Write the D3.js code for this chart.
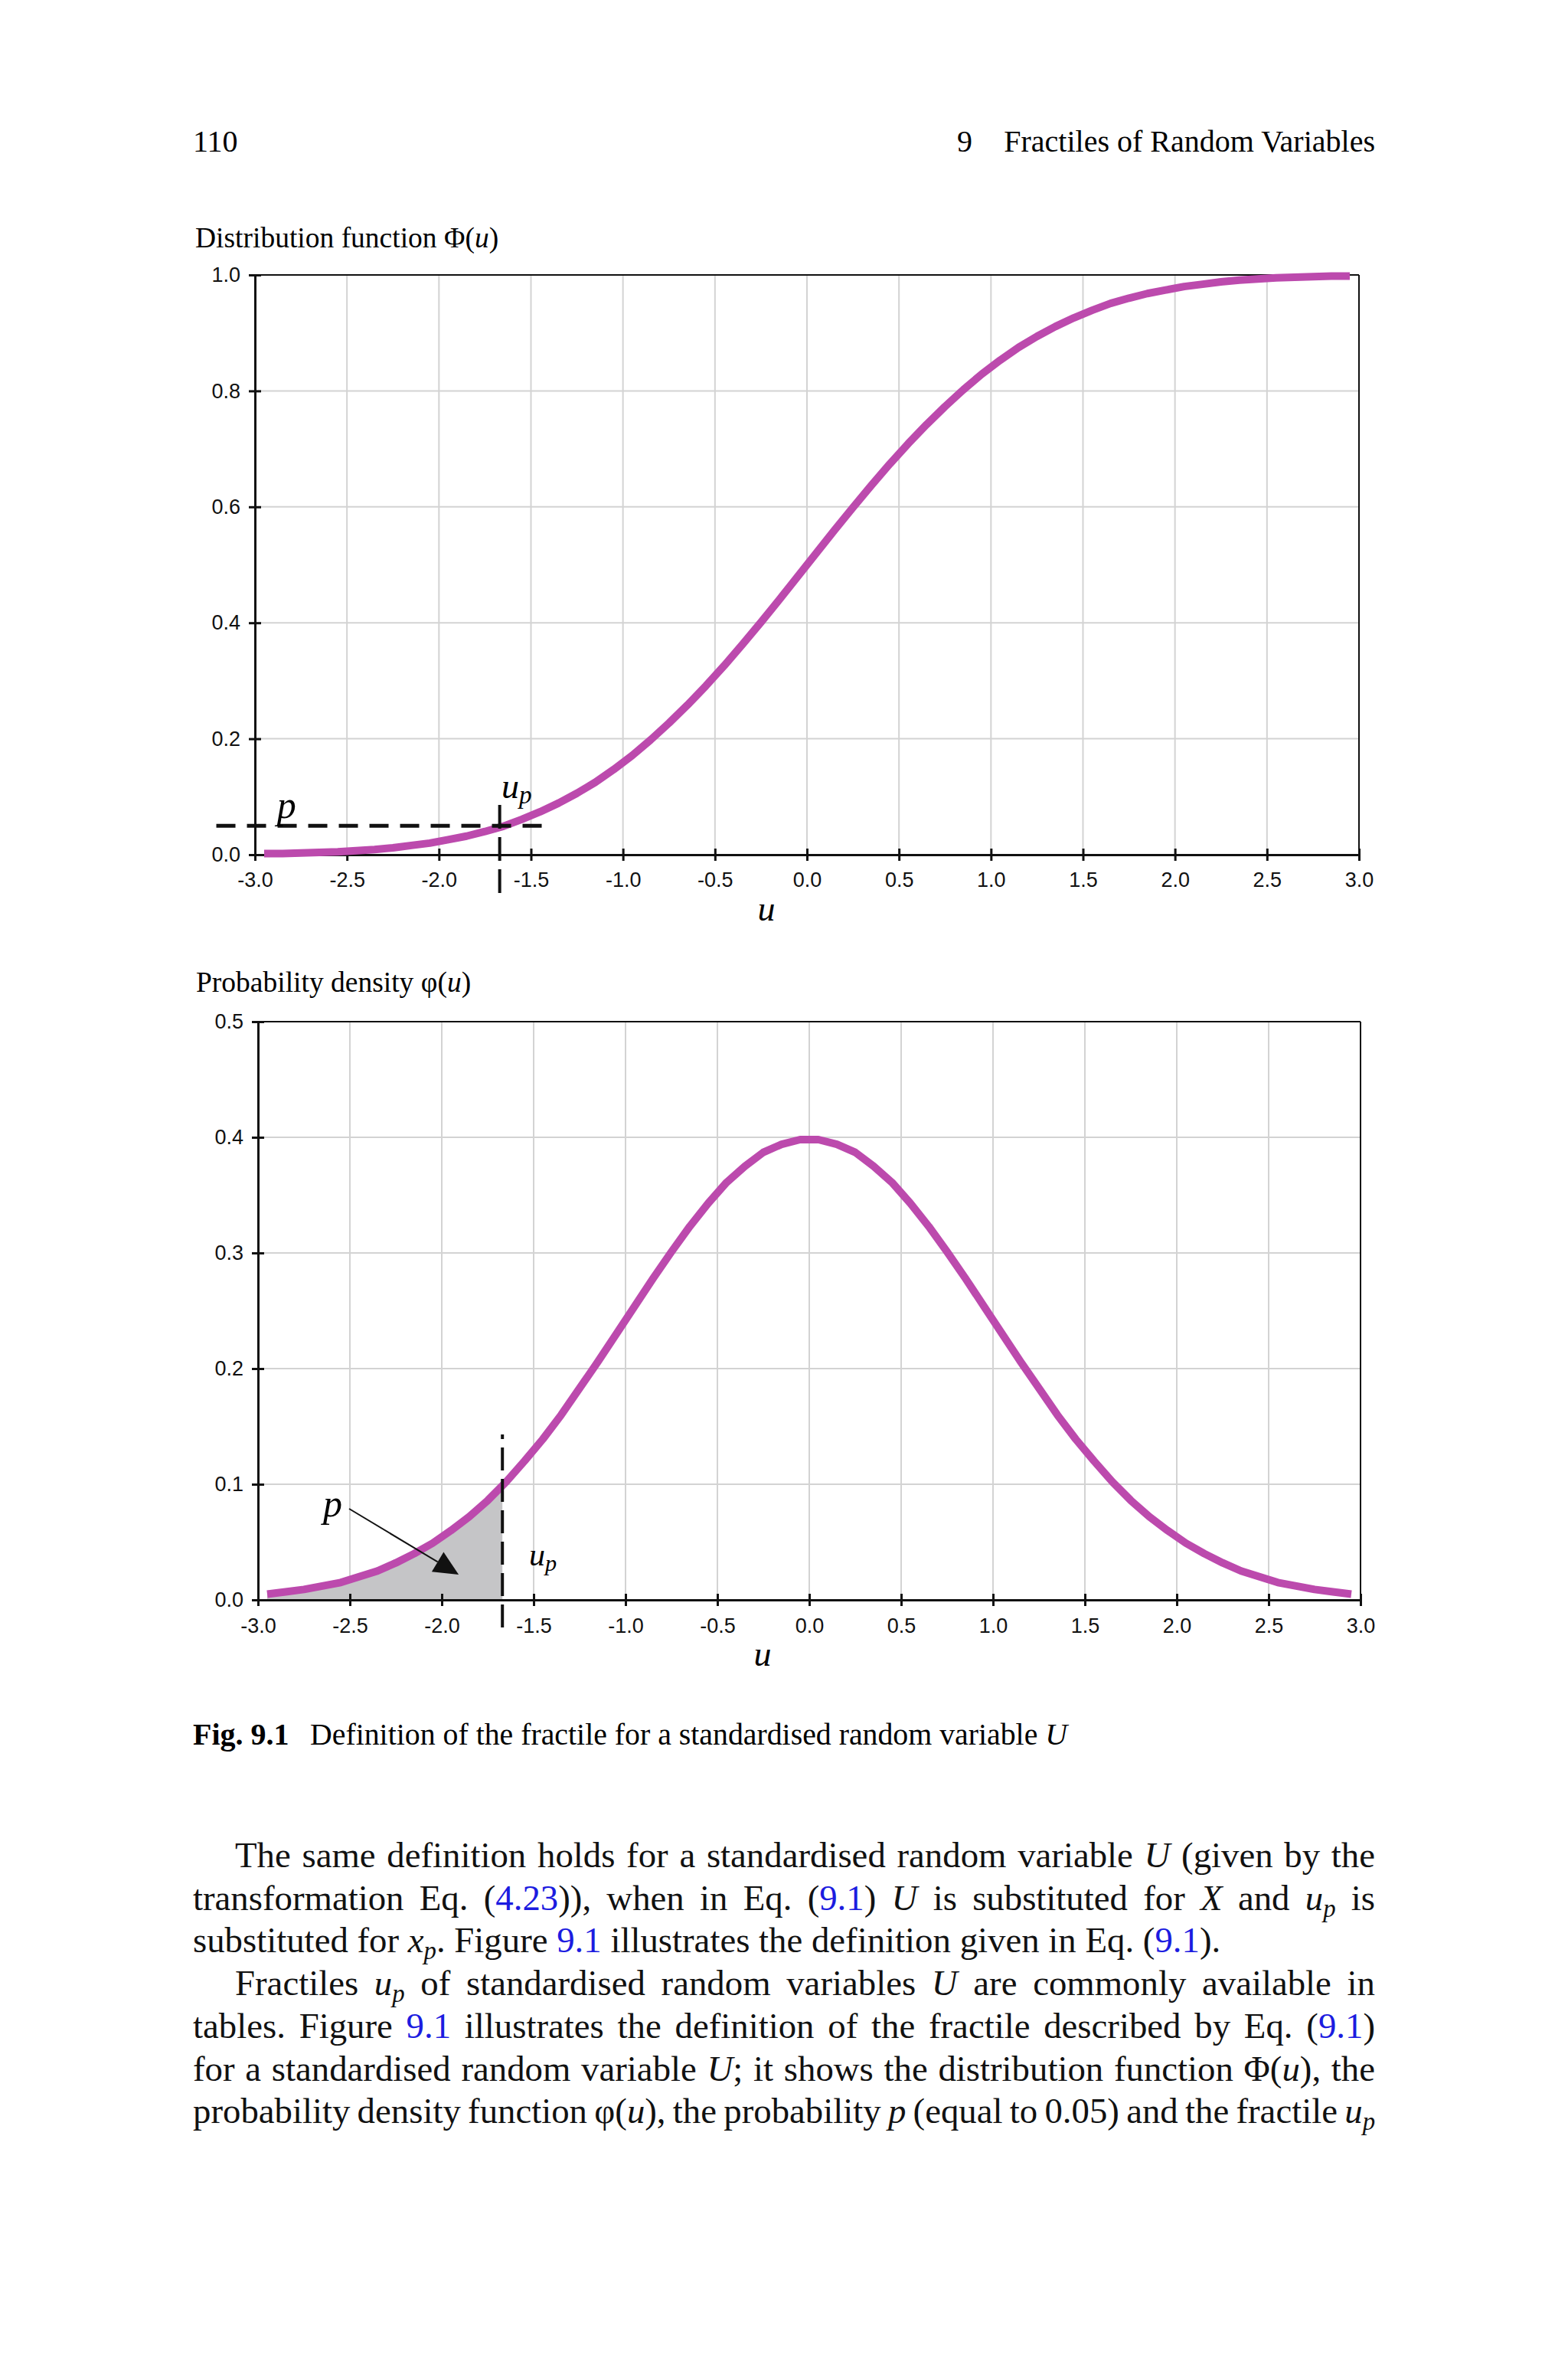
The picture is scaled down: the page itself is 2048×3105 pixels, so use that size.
<!DOCTYPE html>
<html>
<head>
<meta charset="utf-8">
<script src="https://cdn.jsdelivr.net/npm/d3@7"></script>
<style>
  body { margin: 0; background: #fff; }
</style>
</head>
<body>
<script>
// values (u step 0.1)
var uValues = [-2.95, -2.85, -2.75, -2.65, -2.55, -2.45, -2.35, -2.25, -2.15, -2.05,
  -1.95, -1.85, -1.75, -1.65, -1.55, -1.45, -1.35, -1.25, -1.15, -1.05,
  -0.95, -0.85, -0.75, -0.65, -0.55, -0.45, -0.35, -0.25, -0.15, -0.05,
  0.05, 0.15, 0.25, 0.35, 0.45, 0.55, 0.65, 0.75, 0.85, 0.95,
  1.05, 1.15, 1.25, 1.35, 1.45, 1.55, 1.65, 1.75, 1.85, 1.95,
  2.05, 2.15, 2.25, 2.35, 2.45, 2.55, 2.65, 2.75, 2.85, 2.95];

var cdfValues = [0.002, 0.002, 0.003, 0.004, 0.005, 0.007, 0.009, 0.012, 0.016, 0.020,
  0.026, 0.032, 0.040, 0.049, 0.061, 0.074, 0.089, 0.106, 0.125, 0.147,
  0.171, 0.198, 0.227, 0.258, 0.291, 0.326, 0.363, 0.401, 0.440, 0.480,
  0.520, 0.560, 0.599, 0.637, 0.674, 0.709, 0.742, 0.773, 0.802, 0.829,
  0.853, 0.875, 0.894, 0.911, 0.926, 0.939, 0.951, 0.960, 0.968, 0.974,
  0.980, 0.984, 0.988, 0.991, 0.993, 0.995, 0.996, 0.997, 0.998, 0.998];

var pdfValues = [0.005, 0.007, 0.009, 0.012, 0.015, 0.020, 0.025, 0.032, 0.040, 0.049,
  0.060, 0.072, 0.086, 0.102, 0.120, 0.139, 0.160, 0.183, 0.206, 0.230,
  0.254, 0.278, 0.301, 0.323, 0.343, 0.361, 0.375, 0.387, 0.394, 0.398,
  0.398, 0.394, 0.387, 0.375, 0.361, 0.343, 0.323, 0.301, 0.278, 0.254,
  0.230, 0.206, 0.183, 0.160, 0.139, 0.120, 0.102, 0.086, 0.072, 0.060,
  0.049, 0.040, 0.032, 0.025, 0.020, 0.015, 0.012, 0.009, 0.007, 0.005];

var xTicks = [-3.0, -2.5, -2.0, -1.5, -1.0, -0.5, 0.0, 0.5, 1.0, 1.5, 2.0, 2.5, 3.0];
var cdfTicks = [0.0, 0.2, 0.4, 0.6, 0.8, 1.0];
var pdfTicks = [0.0, 0.1, 0.2, 0.3, 0.4, 0.5];

var pLevel = 0.05;
var uMarker = -1.67;
var shadeEdge = [-1.67, 0.099];

var bodyLines = [
  { text: "The same definition holds for a standardised random variable *U* (given by the", indent: true, justify: true },
  { text: "transformation Eq. ([4.23])), when in Eq. ([9.1]) *U* is substituted for *X* and *u*_p is", indent: false, justify: true },
  { text: "substituted for *x*_p. Figure [9.1] illustrates the definition given in Eq. ([9.1]).", indent: false, justify: false },
  { text: "Fractiles *u*_p of standardised random variables *U* are commonly available in", indent: true, justify: true },
  { text: "tables. Figure [9.1] illustrates the definition of the fractile described by Eq. ([9.1])", indent: false, justify: true },
  { text: "for a standardised random variable *U*; it shows the distribution function \u03a6(*u*), the", indent: false, justify: true },
  { text: "probability density function \u03c6(*u*), the probability *p* (equal to 0.05) and the fractile *u*_p", indent: false, justify: true }
];

var W = 2048, H = 3105;
var serif = "'Liberation Serif', 'Times New Roman', serif";
var sans = "'Liberation Sans', Arial, sans-serif";
var curveColor = "#bc4aad";

var svg = d3.select("body").append("svg")
  .attr("width", W).attr("height", H)
  .style("display", "block");

svg.append("rect").attr("width", W).attr("height", H).attr("fill", "#fff");

// page header
svg.append("text").attr("x", 252).attr("y", 198)
  .attr("font-family", serif).attr("font-size", 40).text("110");
svg.append("text").attr("x", 1250).attr("y", 198)
  .attr("font-family", serif).attr("font-size", 40).text("9");
svg.append("text").attr("x", 1796).attr("y", 198).attr("text-anchor", "end")
  .attr("font-family", serif).attr("font-size", 40).text("Fractiles of Random Variables");

function panelTitle(x, y, label, sym) {
  var t = svg.append("text").attr("x", x).attr("y", y)
    .attr("font-family", serif).attr("font-size", 37.5);
  t.append("tspan").text(label + " " + sym + "(");
  t.append("tspan").attr("font-style", "italic").text("u");
  t.append("tspan").text(")");
}

function drawPanel(opt) {
  var x = d3.scaleLinear().domain([-3, 3]).range([opt.left, opt.right]);
  var y = d3.scaleLinear().domain([0, opt.yMax]).range([opt.bottom, opt.top]);
  var g = svg.append("g");

  // grid
  g.selectAll(".vgrid").data(xTicks.slice(1, -1)).enter().append("line")
    .attr("x1", d => x(d)).attr("x2", d => x(d))
    .attr("y1", opt.top).attr("y2", opt.bottom)
    .attr("stroke", "#d3d3d3").attr("stroke-width", 2);
  g.selectAll(".hgrid").data(opt.yTicks.slice(1, -1)).enter().append("line")
    .attr("x1", opt.left).attr("x2", opt.right)
    .attr("y1", d => y(d)).attr("y2", d => y(d))
    .attr("stroke", "#d3d3d3").attr("stroke-width", 2);

  if (opt.shade) {
    var pts = uValues.map((u, i) => [u, opt.values[i]]).filter(d => d[0] < shadeEdge[0]);
    pts.push(shadeEdge);
    g.append("path").datum(pts)
      .attr("fill", "#c5c5c7")
      .attr("d", d3.area().x(d => x(d[0])).y0(y(0)).y1(d => y(d[1])));
  }

  // frame
  g.append("line").attr("x1", opt.left).attr("x2", opt.right).attr("y1", opt.top).attr("y2", opt.top)
    .attr("stroke", "#111").attr("stroke-width", 2);
  g.append("line").attr("x1", opt.right).attr("x2", opt.right).attr("y1", opt.top).attr("y2", opt.bottom)
    .attr("stroke", "#111").attr("stroke-width", 2);

  var yAxis = g.append("g").attr("transform", "translate(" + opt.left + ",0)")
    .call(d3.axisLeft(y).tickValues(opt.yTicks).tickFormat(d => d.toFixed(1)).tickSize(0).tickPadding(19));
  var xAxis = g.append("g").attr("transform", "translate(0," + opt.bottom + ")")
    .call(d3.axisBottom(x).tickValues(xTicks).tickFormat(d => d.toFixed(1)).tickSize(0).tickPadding(opt.xPad));

  [yAxis, xAxis].forEach(a => {
    a.select(".domain").attr("stroke", "#111").attr("stroke-width", 3);
    a.selectAll("text").attr("font-family", sans).attr("font-size", 27).attr("fill", "#111");
  });
  yAxis.selectAll(".tick line").attr("x1", -8).attr("x2", 8).attr("stroke", "#111").attr("stroke-width", 3);
  xAxis.selectAll(".tick line").attr("y1", -8).attr("y2", 8).attr("stroke", "#111").attr("stroke-width", 3);

  // curve
  g.append("path").datum(uValues.map((u, i) => [u, opt.values[i]]))
    .attr("fill", "none").attr("stroke", curveColor).attr("stroke-width", 10)
    .attr("stroke-linejoin", "round")
    .attr("d", d3.line().x(d => x(d[0])).y(d => y(d[1])));

  // axis label
  g.append("text").attr("x", opt.uLabelX).attr("y", opt.bottom + 86).attr("text-anchor", "middle")
    .attr("font-family", serif).attr("font-style", "italic").attr("font-size", 46).text("u");

  return { g: g, x: x, y: y };
}

function upLabel(g, px, py, size) {
  var t = g.append("text").attr("x", px).attr("y", py)
    .attr("font-family", serif).attr("font-style", "italic").attr("font-size", size);
  t.append("tspan").text("u");
  t.append("tspan").attr("font-size", size * 0.72).attr("dy", 7).text("p");
}

// ---- distribution function ----
panelTitle(255, 323, "Distribution function", "\u03a6");
var cdfPanel = drawPanel({ left: 333, right: 1775, top: 359, bottom: 1116, yMax: 1.0,
  yTicks: cdfTicks, values: cdfValues, xPad: 23, uLabelX: 1001 });

cdfPanel.g.append("line")
  .attr("x1", cdfPanel.x(-3.21)).attr("x2", cdfPanel.x(-1.42))
  .attr("y1", cdfPanel.y(pLevel)).attr("y2", cdfPanel.y(pLevel))
  .attr("stroke", "#111").attr("stroke-width", 5).attr("stroke-dasharray", "25,15");
cdfPanel.g.append("line")
  .attr("x1", cdfPanel.x(uMarker)).attr("x2", cdfPanel.x(uMarker))
  .attr("y1", cdfPanel.y(0.086)).attr("y2", cdfPanel.y(-0.066))
  .attr("stroke", "#111").attr("stroke-width", 4).attr("stroke-dasharray", "31,11");
cdfPanel.g.append("text").attr("x", cdfPanel.x(-2.88)).attr("y", cdfPanel.y(0.063))
  .attr("font-family", serif).attr("font-style", "italic").attr("font-size", 50).text("p");
upLabel(cdfPanel.g, cdfPanel.x(-1.66), cdfPanel.y(0.098), 46);

// ---- probability density ----
panelTitle(256, 1295, "Probability density", "\u03c6");
var pdfPanel = drawPanel({ left: 337, right: 1777, top: 1334, bottom: 2089, yMax: 0.5,
  yTicks: pdfTicks, values: pdfValues, shade: true, xPad: 24, uLabelX: 996 });

pdfPanel.g.append("line")
  .attr("x1", pdfPanel.x(uMarker)).attr("x2", pdfPanel.x(uMarker))
  .attr("y1", pdfPanel.y(0.143)).attr("y2", pdfPanel.y(-0.029))
  .attr("stroke", "#111").attr("stroke-width", 4)
  .attr("stroke-dasharray", "30,11").attr("stroke-dashoffset", 24);

// arrow p -> shaded area
var a0 = [pdfPanel.x(-2.504), pdfPanel.y(0.0788)], a1 = [pdfPanel.x(-1.908), pdfPanel.y(0.0219)];
var ang = Math.atan2(a1[1] - a0[1], a1[0] - a0[0]);
var headL = 32, headW = 15;
var base = [a1[0] - headL * Math.cos(ang), a1[1] - headL * Math.sin(ang)];
pdfPanel.g.append("line").attr("x1", a0[0]).attr("y1", a0[1]).attr("x2", base[0]).attr("y2", base[1])
  .attr("stroke", "#111").attr("stroke-width", 2);
pdfPanel.g.append("path")
  .attr("d", "M" + a1 + "L" + [base[0] - headW * Math.sin(ang), base[1] + headW * Math.cos(ang)] +
    "L" + [base[0] + headW * Math.sin(ang), base[1] - headW * Math.cos(ang)] + "Z")
  .attr("fill", "#111");
pdfPanel.g.append("text").attr("x", pdfPanel.x(-2.646)).attr("y", pdfPanel.y(0.072))
  .attr("font-family", serif).attr("font-style", "italic").attr("font-size", 50).text("p");
upLabel(pdfPanel.g, pdfPanel.x(-1.525), pdfPanel.y(0.0298), 42);

// ---- caption ----
svg.append("text").attr("x", 252).attr("y", 2278)
  .attr("font-family", serif).attr("font-weight", "bold").attr("font-size", 40).text("Fig. 9.1");
var cap = svg.append("text").attr("x", 405).attr("y", 2278)
  .attr("font-family", serif).attr("font-size", 39.8);
cap.append("tspan").text("Definition of the fractile for a standardised random variable ");
cap.append("tspan").attr("font-style", "italic").text("U");

// ---- body text, justified ----
var bodySize = 46.8, lineLeft = 252, lineRight = 1796, indent = 55;
var tokenRe = /\*([^*]+)\*|\[([^\]]+)\]|_(\w)|([^*\[\]_]+)/g;

function wordRuns(word) {
  var runs = [], m;
  tokenRe.lastIndex = 0;
  while ((m = tokenRe.exec(word)) !== null) {
    if (m[1]) runs.push({ t: m[1], italic: true });
    else if (m[2]) runs.push({ t: m[2], blue: true });
    else if (m[3]) runs.push({ t: m[3], italic: true, sub: true });
    else runs.push({ t: m[4] });
  }
  return runs;
}

var bodyG = svg.append("g");
bodyLines.forEach(function (line, li) {
  var baseY = 2438 + li * 55.7;
  var x0 = lineLeft + (line.indent ? indent : 0);
  var words = line.text.split(" ");
  var nodes = words.map(function (w) {
    var t = bodyG.append("text").attr("y", baseY)
      .attr("font-family", serif).attr("font-size", bodySize).attr("fill", "#111");
    var shifted = false;
    wordRuns(w).forEach(function (r) {
      var ts = t.append("tspan").text(r.t);
      if (r.italic) ts.attr("font-style", "italic");
      if (r.blue) ts.attr("fill", "#1c1ce0");
      if (r.sub) { ts.attr("font-size", bodySize * 0.7).attr("dy", 9); shifted = true; }
      else if (shifted) { ts.attr("dy", -9); shifted = false; }
    });
    return t;
  });
  var widths = nodes.map(n => n.node().getComputedTextLength());
  var total = d3.sum(widths);
  var gap = line.justify ? (lineRight - x0 - total) / (nodes.length - 1) : bodySize * 0.25;
  var cx = x0;
  nodes.forEach(function (n, i) {
    n.attr("x", cx);
    cx += widths[i] + gap;
  });
});
</script>
</body>
</html>
